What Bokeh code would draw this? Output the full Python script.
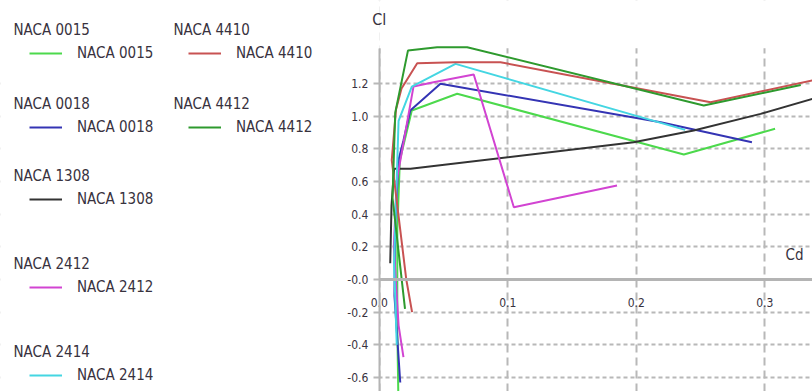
from bokeh.plotting import figure
from bokeh.models import Legend, LegendItem, Label, FixedTicker, BoxAnnotation
from bokeh.embed import file_html
from bokeh.resources import INLINE

# ---------------- data ----------------
names = ["NACA 0015", "NACA 0018", "NACA 1308", "NACA 2412", "NACA 2414", "NACA 4410", "NACA 4412"]
colors = ["#4cd94c", "#3434b4", "#333333", "#d244d2", "#44d6e2", "#c85252", "#2e9a2e"]

cd_0015 = [0.0149, 0.0140, 0.0140, 0.0160, 0.0253, 0.0606, 0.237, 0.308]
cl_0015 = [-0.75, -0.30, 0.30, 0.73, 1.034, 1.136, 0.765, 0.922]

cd_0018 = [0.0163, 0.0118, 0.0122, 0.0149, 0.0188, 0.0241, 0.0476, 0.219, 0.290]
cl_0018 = [-0.63, -0.10, 0.30, 0.73, 0.85, 1.034, 1.197, 0.962, 0.840]

cd_1308 = [0.0085, 0.0095, 0.0115, 0.0243, 0.198, 0.2447, 0.2967, 0.337]
cl_1308 = [0.10, 0.45, 0.677, 0.677, 0.840, 0.911, 1.013, 1.105]

cd_2412 = [0.0188, 0.0150, 0.0113, 0.0135, 0.0214, 0.0266, 0.0422, 0.0735, 0.1047, 0.185]
cl_2412 = [-0.475, -0.28, 0.20, 0.60, 0.95, 1.18, 1.207, 1.254, 0.442, 0.575]

cd_2414 = [0.0136, 0.0115, 0.0135, 0.0150, 0.0253, 0.0593, 0.238]
cl_2414 = [-0.40, 0.10, 0.60, 0.97, 1.18, 1.319, 0.915]

cd_4410 = [0.0255, 0.0210, 0.0097, 0.0130, 0.0173, 0.0295, 0.0593, 0.0943, 0.2578, 0.337]
cl_4410 = [-0.20, 0.0, 0.73, 1.04, 1.168, 1.323, 1.329, 1.329, 1.084, 1.217]

cd_4412 = [0.0200, 0.0160, 0.0103, 0.0124, 0.0223, 0.0450, 0.0684, 0.2525, 0.328]
cl_4412 = [-0.18, 0.10, 0.50, 1.02, 1.400, 1.421, 1.421, 1.064, 1.19]

x_ticks = [0.0, 0.1, 0.2, 0.3]
x_tick_labels = ["0.0", "0.1", "0.2", "0.3"]
y_ticks = [1.2, 1.0, 0.8, 0.6, 0.4, 0.2, 0.0, -0.2, -0.4, -0.6]
y_tick_labels = ["1.2", "1.0", "0.8", "0.6", "0.4", "0.2", "-0.0", "-0.2", "-0.4", "-0.6"]

series_cd = [cd_0015, cd_0018, cd_1308, cd_2412, cd_2414, cd_4410, cd_4412]
series_cl = [cl_0015, cl_0018, cl_1308, cl_2412, cl_2414, cl_4410, cl_4412]

# ---------------- layout (pixels) ----------------
W, H = 812, 391
X0_PX, Y0_PX = 378.8, 279.0      # pixel position of the origin
SX, SY = 1285.0, 163.5           # pixels per data unit
FONT = "DejaVu Sans Condensed"
TXT = "#38323e"
GRID = "#b8b8b8"

def dx(px):
    return (px - X0_PX) / SX

def dy(py):
    return (Y0_PX - py) / SY

p = figure(width=W, height=H, output_backend="svg", toolbar_location=None,
           x_range=(dx(0), dx(W)), y_range=(dy(H), dy(0)),
           min_border_left=0, min_border_right=0, min_border_top=0, min_border_bottom=0)
p.outline_line_color = None
p.background_fill_color = "white"

p.xgrid.grid_line_color = GRID
p.xgrid.grid_line_width = 2
p.xgrid.grid_line_dash = "8 5"
p.ygrid.grid_line_color = GRID
p.ygrid.grid_line_width = 2
p.ygrid.grid_line_dash = "4 3"

# white masks so the grid only covers the plotting area right of the Cl axis
p.add_layout(BoxAnnotation(right=0, fill_color="white", fill_alpha=1, line_alpha=0, level="underlay"))
p.add_layout(BoxAnnotation(left=0, bottom=1.415, fill_color="white", fill_alpha=1, line_alpha=0, level="underlay"))

renderers = []
for xs, ys, c in zip(series_cd, series_cl, colors):
    renderers.append(p.line(xs, ys, line_color=c, line_width=2))

# axes crossing at the origin
p.xaxis.fixed_location = 0
p.yaxis.fixed_location = 0
p.xaxis.ticker = FixedTicker(ticks=x_ticks)
p.xaxis.major_label_overrides = dict(zip(x_ticks, x_tick_labels))
p.yaxis.ticker = FixedTicker(ticks=y_ticks)
p.yaxis.major_label_overrides = dict(zip(y_ticks, y_tick_labels))
for ax in (p.xaxis, p.yaxis):
    ax.major_label_text_font = FONT
    ax.major_label_text_font_size = "12px"
    ax.major_label_text_color = TXT
    ax.minor_tick_line_color = None
    ax.axis_line_color = "#b4b4b4"
p.xaxis.axis_line_width = 3
p.xaxis.bounds = (0.0, 0.34)
p.yaxis.axis_line_width = 2
p.xaxis.major_tick_line_color = None
p.xaxis.major_label_standoff = 12
p.yaxis.major_tick_out = 6
p.yaxis.major_tick_in = 0
p.yaxis.major_tick_line_color = GRID
p.yaxis.major_tick_line_width = 2
p.yaxis.major_label_standoff = 5
p.yaxis.bounds = (-0.75, 1.41)

p.add_layout(Label(x=0, y=dy(19), text="Cl", text_font=FONT, text_font_size="16px",
                   text_color=TXT, text_align="center", text_baseline="middle"))
p.add_layout(Label(x=dx(785), y=dy(254), text="Cd", text_font=FONT, text_font_size="15px",
                   text_color=TXT, text_align="left", text_baseline="middle"))

# legend blocks (pixels): title left, glyph left, title centre y
title_left = [13, 13, 13, 13, 13, 173, 173]
glyph_left = [29, 29, 29, 29, 29, 188, 188]
title_cy = [29.5, 103, 175.5, 263.5, 351.5, 29.5, 103]

for i, name in enumerate(names):
    ty = title_cy[i]
    p.add_layout(Label(x=dx(title_left[i]), y=dy(ty), text=name,
                       text_font=FONT, text_font_size="15px", text_color=TXT,
                       text_align="left", text_baseline="middle"))
    item_cy = ty + 23.5
    lg = Legend(items=[LegendItem(label=name, renderers=[renderers[i]])],
                location=(glyph_left[i], H - (item_cy + 10)),
                padding=0, margin=0, spacing=0, border_line_alpha=0,
                background_fill_alpha=0, glyph_width=33, glyph_height=20,
                label_height=20, label_standoff=15,
                label_text_font=FONT, label_text_font_size="15px",
                label_text_color=TXT)
    p.add_layout(lg)

open("out.html", "w").write(file_html(p, INLINE))
